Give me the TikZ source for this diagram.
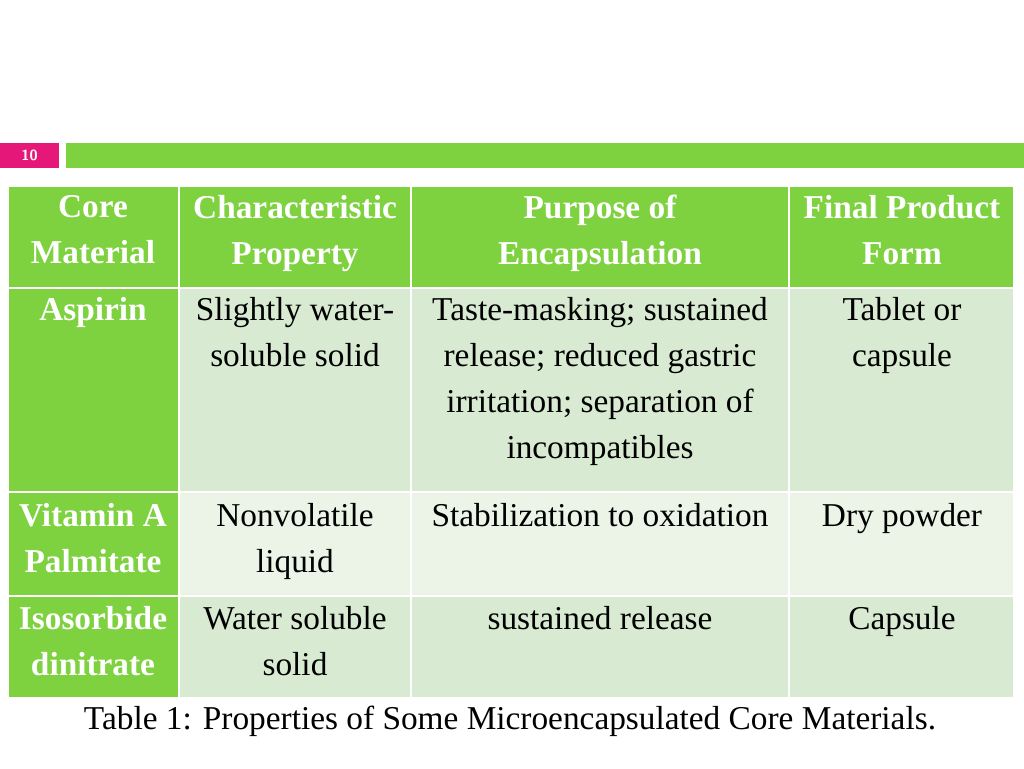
\documentclass[tikz,border=0pt]{standalone}
\usepackage{fontspec}
\setmainfont{Liberation Serif}
\definecolor{hgreen}{HTML}{7ED13F}
\definecolor{rowa}{HTML}{D9EAD2}
\definecolor{rowb}{HTML}{EBF4E7}
\definecolor{pinkc}{HTML}{E5187A}
\begin{document}
\begin{tikzpicture}[x=0.75pt,y=-0.75pt,
  cell/.style={fill=#1,draw=white,line width=1.5pt},
  txt/.style={anchor=north,align=center,inner sep=0pt,font=\fontsize{25}{34.5}\selectfont},
  htxt/.style={txt,text=white,font=\fontsize{25}{34.5}\selectfont\bfseries}]
\useasboundingbox (0,0) rectangle (1024,768);
\fill[pinkc] (0,143) rectangle (59,168);
\node[text=white,font=\sffamily\bfseries\fontsize{11}{13}\selectfont] (pg) at (29.5,155) {10};
\fill[hgreen] (66,143) rectangle (1024,168);
% cells
\foreach \xa/\xb in {8/179,179/411,411/789,789/1014}{
  \path[cell=hgreen] (\xa,186) rectangle (\xb,288);}
\foreach \ya/\yb/\c in {288/492/rowa,492/596/rowb,596/698/rowa}{
  \path[cell=hgreen] (8,\ya) rectangle (179,\yb);
  \foreach \xa/\xb in {179/411,411/789,789/1014}{
   \path[cell=\c] (\xa,\ya) rectangle (\xb,\yb);}}
% header
\node[htxt] (h1) at (93,195) {Core\\Material};
\node[htxt] (h2) at (295,195) {Characteristic\\Property};
\node[htxt] (h3) at (600,195) {Purpose of\\Encapsulation};
\node[htxt] (h4) at (902,195) {Final Product\\Form};
% row 1
\node[htxt] (a1) at (93,297) {Aspirin};
\node[txt] (a2) at (295,297) {Slightly water-\\soluble solid};
\node[txt] (a3) at (600,297) {Taste-masking; sustained\\release; reduced gastric\\irritation; separation of\\incompatibles};
\node[txt] (a4) at (902,297) {Tablet or\\capsule};
% row 2
\node[htxt] (b1) at (93,503) {Vitamin A\\Palmitate};
\node[txt] (b2) at (295,503) {Nonvolatile\\liquid};
\node[txt] (b3) at (600,503) {Stabilization to oxidation};
\node[txt] (b4) at (902,503) {Dry powder};
% row 3
\node[htxt] (c1) at (93,606) {Isosorbide\\dinitrate};
\node[txt] (c2) at (295,606) {Water soluble\\solid};
\node[txt] (c3) at (600,606) {sustained release};
\node[txt] (c4) at (902,606) {Capsule};
\node[txt,anchor=center] (cap) at (510,721) {Table 1: Properties of Some Microencapsulated Core Materials.};
\end{tikzpicture}
\end{document}
